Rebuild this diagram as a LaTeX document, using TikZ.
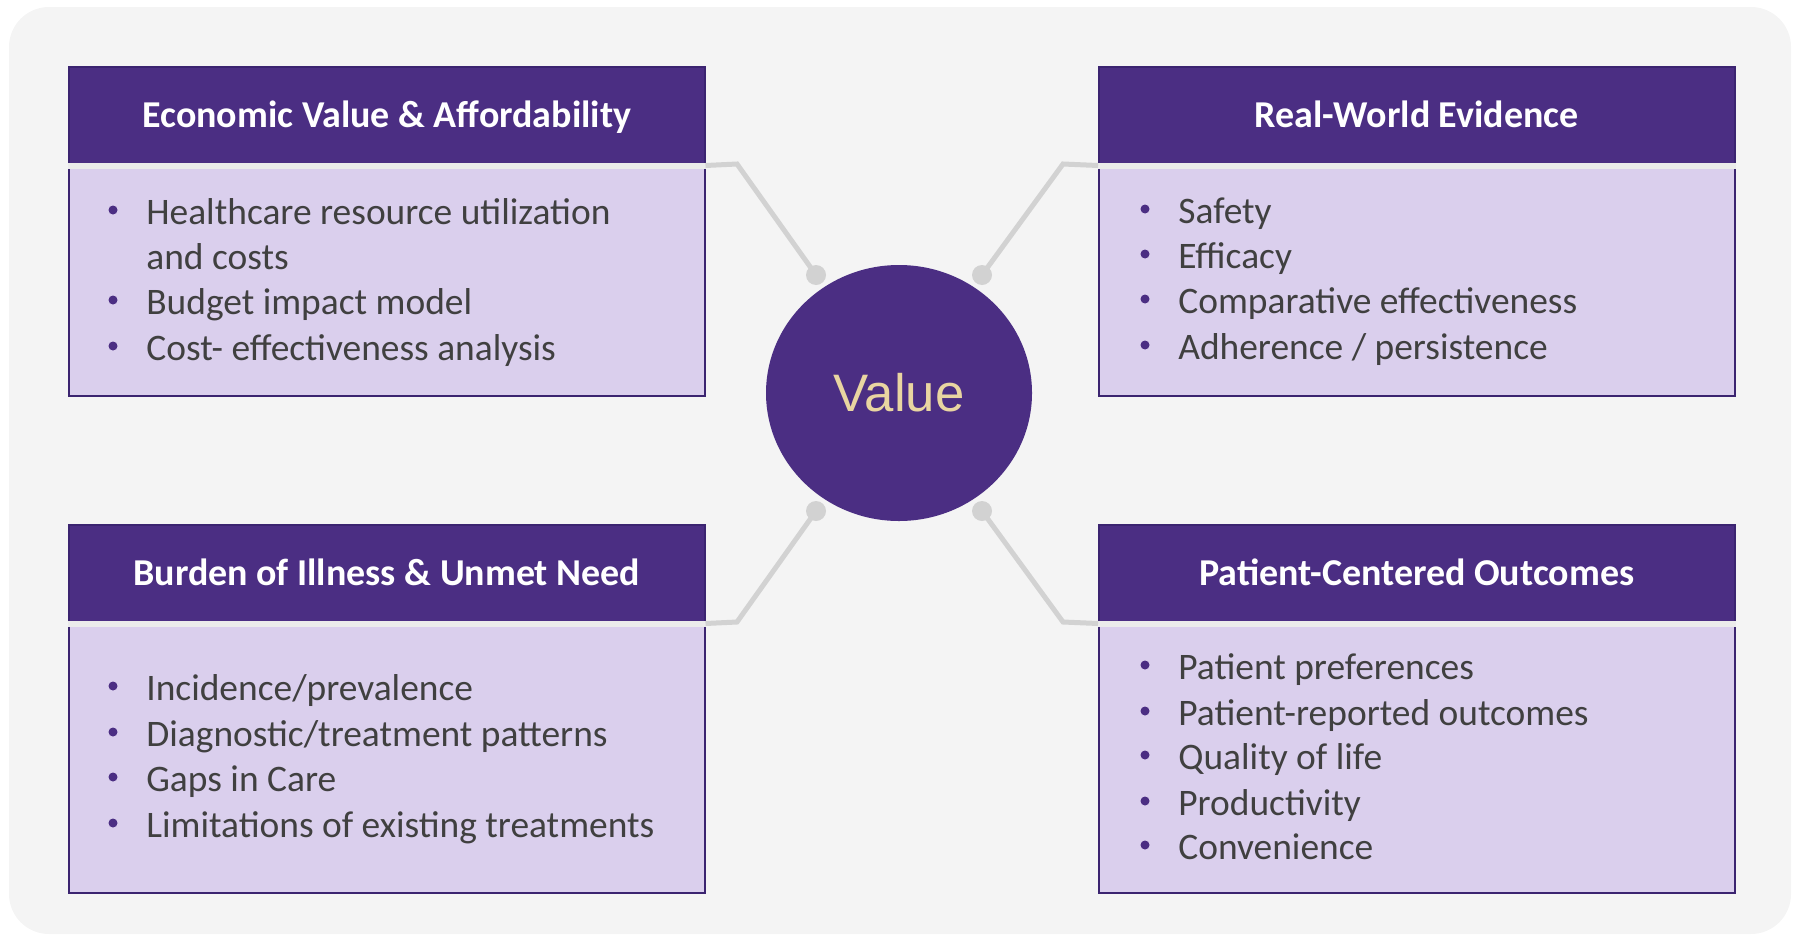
\documentclass[tikz,border=0pt]{standalone}
\usepackage{fontspec}
\setmainfont{Carlito}
\newfontfamily\valuefont{Liberation Sans}
\usetikzlibrary{shapes.geometric}

\definecolor{hdrpurple}{HTML}{4B2E83}
\definecolor{edgepurple}{HTML}{3B2470}
\definecolor{boxlilac}{HTML}{DACFED}
\definecolor{bggray}{HTML}{F4F4F4}
\definecolor{linkgray}{HTML}{D2D2D2}
\definecolor{sepgray}{HTML}{EBEBEB}
\definecolor{txtgray}{HTML}{404040}
\definecolor{valgold}{HTML}{E9D5A1}

% bullet line: name, x, baseline y, text
\newcommand{\bulletitem}[4]{%
	\fill[hdrpurple] (#2-33,#3-14) circle (0.9mm);
	\node[itemtext] (#1) at (#2,#3) {#4};}

\tikzset{
	hdrbox/.style={draw=edgepurple, line width=0.3mm, fill=hdrpurple, text=white,
		minimum width=127.2mm, minimum height=19.6mm, anchor=north west, inner sep=0pt,
		text height=13.9pt, text depth=0pt, font=\fontsize{21.6}{26}\selectfont\bfseries},
	bodybox/.style={draw=edgepurple, line width=0.45mm, fill=boxlilac,
		minimum width=127.2mm, anchor=north west, inner sep=0pt},
	itemtext/.style={anchor=base west, inner sep=0pt, text=txtgray,
		font=\fontsize{21.3}{25}\selectfont},
	sepline/.style={sepgray, line width=1.2mm},
	link/.style={linkgray, line width=1mm},
}

\begin{document}
\begin{tikzpicture}[x=0.2mm, y=-0.2mm]
			%%%%% START %%%%%
			\useasboundingbox (0,0) rectangle (1801,935);
			\fill[bggray, rounded corners=8mm] (9,7) rectangle (1791,934);
			
			% value in the middle
			\node[ellipse, fill=hdrpurple, minimum width=53.2mm, minimum height=51.2mm,
				text=valgold, font=\valuefont\fontsize{30}{36}\selectfont] (value) at (899,393) {Value};
			
			% four boxes
			\node[bodybox, minimum height=46.2mm] (econ-body) at (68,164) {};
			\node[hdrbox] (econ) at (68,66) {Economic Value \& Affordability};
			\draw[sepline] (econ.south west) -- (econ.south east);
			
			\node[bodybox, minimum height=46.2mm] (rwe-body) at (1098,164) {};
			\node[hdrbox] (rwe) at (1098,66) {Real-World Evidence};
			\draw[sepline] (rwe.south west) -- (rwe.south east);
			
			\node[bodybox, minimum height=54mm] (burden-body) at (68,622) {};
			\node[hdrbox] (burden) at (68,524) {Burden of Illness \& Unmet Need};
			\draw[sepline] (burden.south west) -- (burden.south east);
			
			\node[bodybox, minimum height=54mm] (pco-body) at (1098,622) {};
			\node[hdrbox] (pco) at (1098,524) {Patient-Centered Outcomes};
			\draw[sepline] (pco.south west) -- (pco.south east);
			
			% connectors
			\coordinate (econ-dot) at (816,275);
			\coordinate (rwe-dot) at (982,275);
			\coordinate (burden-dot) at (816,511);
			\coordinate (pco-dot) at (982,511);
			
			\draw[link] (econ.south east) -- (737,164) -- (econ-dot);
			\draw[link] (rwe.south west) -- (1063,164) -- (rwe-dot);
			\draw[link] (burden.south east) -- (737,622) -- (burden-dot);
			\draw[link] (pco.south west) -- (1063,622) -- (pco-dot);
			\fill[linkgray] (econ-dot) circle (2mm);
			\fill[linkgray] (rwe-dot) circle (2mm);
			\fill[linkgray] (burden-dot) circle (2mm);
			\fill[linkgray] (pco-dot) circle (2mm);
			
			% items
			\bulletitem{econ-1}{146}{224}{Healthcare resource utilization}
			\node[itemtext] (econ-1b) at (146,269) {and costs};
			\bulletitem{econ-2}{146}{314}{Budget impact model}
			\bulletitem{econ-3}{146}{360}{Cost- effectiveness analysis}
			
			\bulletitem{rwe-1}{1178}{223}{Safety}
			\bulletitem{rwe-2}{1178}{268}{Efficacy}
			\bulletitem{rwe-3}{1178}{313}{Comparative effectiveness}
			\bulletitem{rwe-4}{1178}{359}{Adherence / persistence}
			
			\bulletitem{burden-1}{146}{700}{Incidence/prevalence}
			\bulletitem{burden-2}{146}{746}{Diagnostic/treatment patterns}
			\bulletitem{burden-3}{146}{791}{Gaps in Care}
			\bulletitem{burden-4}{146}{837}{Limitations of existing treatments}
			
			\bulletitem{pco-1}{1178}{679}{Patient preferences}
			\bulletitem{pco-2}{1178}{725}{Patient-reported outcomes}
			\bulletitem{pco-3}{1178}{769}{Quality of life}
			\bulletitem{pco-4}{1178}{815}{Productivity}
			\bulletitem{pco-5}{1178}{859}{Convenience}
			%%%%% END %%%%%
\end{tikzpicture}
\end{document}
